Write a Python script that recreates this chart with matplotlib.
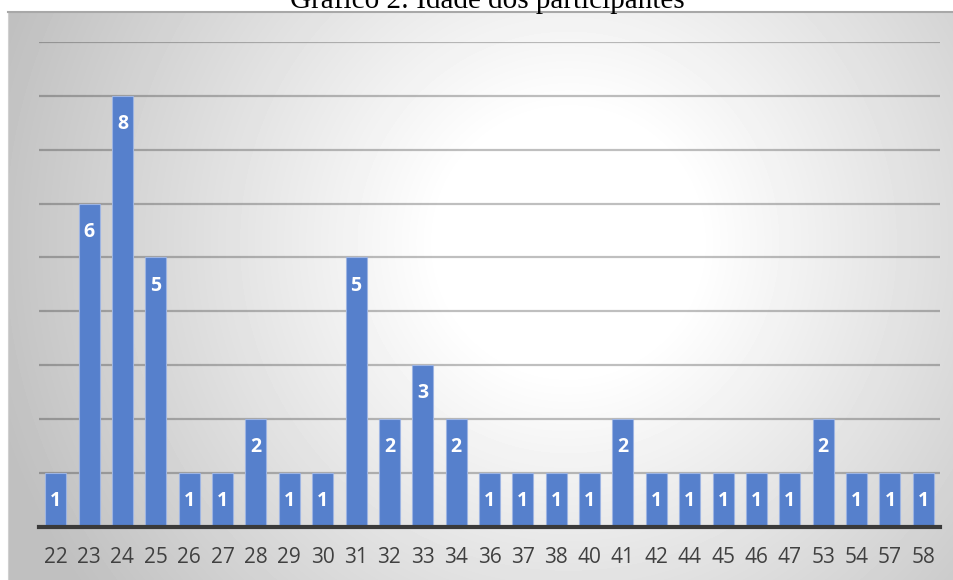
import numpy as np
import matplotlib
matplotlib.use("Agg")
import matplotlib.pyplot as plt

# Age of participants and how many had each age
ages = ['22', '23', '24', '25', '26', '27', '28', '29', '30', '31', '32', '33', '34', '36', '37',
        '38', '40', '41', '42', '44', '45', '46', '47', '53', '54', '57', '58']
counts = [1, 6, 8, 5, 1, 1, 2, 1, 1, 5, 2, 3, 2, 1, 1,
          1, 1, 2, 1, 1, 1, 1, 1, 2, 1, 1, 1]

W, H = 954, 580
fig = plt.figure(figsize=(W / 100, H / 100), dpi=100)
fig.patch.set_facecolor('white')

# grey-to-white radial background panel
bg = fig.add_axes([8 / W, 0, 1 - 8 / W, (H - 12) / H])
gx, gy = np.meshgrid(np.arange(W - 8), np.arange(H - 12))
d = np.hypot(gx - 560, gy - 230)
shade = 1 - 0.25 * np.clip((d - 130) / 470, 0, 1)
bg.imshow(shade, cmap='gray', vmin=0, vmax=1, aspect='auto', interpolation='bilinear')
bg.set_xticks([])
bg.set_yticks([])
for side in ['right', 'bottom']:
    bg.spines[side].set_visible(False)
bg.spines['top'].set_color('#a8a8a8')
bg.spines['top'].set_linewidth(1.5)
bg.spines['left'].set_color('#d0d0d0')

ax = fig.add_axes([39 / W, (H - 526.5) / H, 901 / W, (526.5 - 42) / H])
ax.patch.set_alpha(0)
x = np.arange(len(ages))
bars = ax.bar(x, counts, width=0.63, color='#5680cc', edgecolor='#9db4e2', linewidth=0.8, zorder=3)
ax.set_xlim(-0.5, len(ages) - 0.5)
ax.set_ylim(0, 9)
ax.set_yticks(range(1, 10))
ax.yaxis.grid(True, color='#000000', alpha=0.25, linewidth=1.6, zorder=1)
ax.tick_params(axis='y', left=False, labelleft=False)
ax.set_xticks(x)
ax.set_xticklabels(ages, fontsize=15, color='#404040', family='Open Sans')
ax.tick_params(axis='x', length=0, pad=15)
for side in ['top', 'right', 'left']:
    ax.spines[side].set_visible(False)
ax.spines['bottom'].set_color('#3a3a3a')
ax.spines['bottom'].set_linewidth(3)
ax.spines['bottom'].set_zorder(4)

for xi, c in zip(x, counts):
    ax.annotate(str(c), (xi, c), xytext=(0, -20.5), textcoords='offset points',
                ha='center', va='center', color='white', fontsize=14,
                fontweight='bold', family='Open Sans', zorder=5)

fig.text(487 / W, 1 - 7.5 / H, 'Gráfico 2: Idade dos participantes', ha='center', va='baseline',
         fontsize=21, family='Liberation Serif', color='black')

fig.savefig('out.png', dpi=100)
